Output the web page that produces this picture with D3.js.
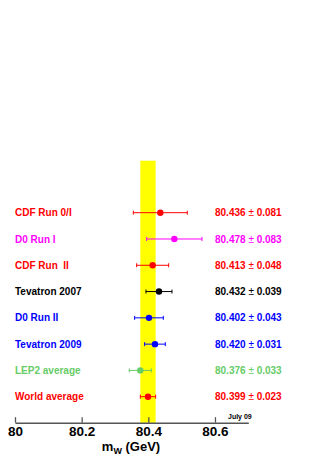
<!DOCTYPE html>
<html>
<head>
<meta charset="utf-8">
<script src="https://cdn.jsdelivr.net/npm/d3@7"></script>
<style>
  html, body { margin: 0; padding: 0; background: #fff; }
  svg { display: block; font-family: "Liberation Sans", Arial, Helvetica, sans-serif; }
</style>
</head>
<body>
<svg id="chart" width="314" height="460"></svg>
<script>
// ---- data ----
const categories = ["CDF Run 0/I", "D0 Run I", "CDF Run  II", "Tevatron 2007", "D0 Run II", "Tevatron 2009", "LEP2 average", "World average"];
const centralValues = [80.436, 80.478, 80.413, 80.432, 80.402, 80.420, 80.376, 80.399];
const errors = [0.081, 0.083, 0.048, 0.039, 0.043, 0.031, 0.033, 0.023];
const colors = ["#ff0000", "#ff00ff", "#ff0000", "#000000", "#0000ff", "#0000ff", "#66cc66", "#ff0000"];
const tickValues = [80, 80.2, 80.4, 80.6];
const bandCenter = 80.399;
const bandError = 0.023;

const svg = d3.select("#chart");

const x = d3.scaleLinear().domain([80, 80.7]).range([15, 248.3]);
const y = d3.scalePoint().domain(categories).range([212.7, 396.7]);
const axisY = 422.7;

// yellow band
svg.append("rect")
  .attr("x", x(bandCenter - bandError))
  .attr("width", x(bandCenter + bandError) - x(bandCenter - bandError))
  .attr("y", 160.7)
  .attr("height", axisY - 160.7)
  .attr("fill", "#ffff00");

const rows = categories.map((c, i) => ({ name: c, v: centralValues[i], e: errors[i], col: colors[i] }));

const g = svg.append("g").selectAll("g").data(rows).join("g");

// error bars
g.append("line")
  .attr("x1", d => x(d.v - d.e)).attr("x2", d => x(d.v + d.e))
  .attr("y1", d => y(d.name)).attr("y2", d => y(d.name))
  .attr("stroke", d => d.col).attr("stroke-width", 1);
g.append("line")
  .attr("x1", d => x(d.v - d.e)).attr("x2", d => x(d.v - d.e))
  .attr("y1", d => y(d.name) - 2).attr("y2", d => y(d.name) + 2)
  .attr("stroke", d => d.col).attr("stroke-width", 1);
g.append("line")
  .attr("x1", d => x(d.v + d.e)).attr("x2", d => x(d.v + d.e))
  .attr("y1", d => y(d.name) - 2).attr("y2", d => y(d.name) + 2)
  .attr("stroke", d => d.col).attr("stroke-width", 1);
g.append("circle")
  .attr("cx", d => x(d.v)).attr("cy", d => y(d.name)).attr("r", 3.2)
  .attr("fill", d => d.col);

// labels
g.append("text")
  .attr("x", 15).attr("y", d => y(d.name) + 3.6)
  .attr("font-size", 10).attr("font-weight", "bold")
  .attr("fill", d => d.col)
  .style("white-space", "pre")
  .attr("xml:space", "preserve")
  .text(d => d.name);

const vt = g.append("text")
  .attr("x", 215).attr("y", d => y(d.name) + 3.6)
  .attr("font-size", 10).attr("font-weight", "bold")
  .attr("fill", d => d.col);
vt.append("tspan").text(d => d.v.toFixed(3) + " ");
vt.append("tspan").attr("font-weight", "normal").text("\u00b1");
vt.append("tspan").text(d => " " + d.e.toFixed(3));

// axis
const axis = d3.axisBottom(x).tickValues(tickValues).tickFormat(d3.format("")).tickSizeInner(-5.5).tickSizeOuter(0).tickPadding(4);
const ag = svg.append("g").attr("transform", `translate(0,${axisY})`).call(axis);
ag.select(".domain").attr("stroke", "#555").attr("stroke-width", 1.5);
ag.selectAll(".tick line").attr("stroke", "#555").attr("stroke-width", 1.3);
ag.selectAll(".tick text")
  .attr("font-size", 13.5).attr("font-weight", "bold").attr("fill", "#000")
  .attr("font-family", "\"Liberation Sans\", Arial, sans-serif");

// axis title
const t = svg.append("text")
  .attr("x", 131).attr("y", 451)
  .attr("text-anchor", "middle")
  .attr("font-size", 13).attr("font-weight", "bold");
t.append("tspan").text("m");
t.append("tspan").attr("font-size", 9).attr("dy", 3).text("W");
t.append("tspan").attr("dy", -3).text(" (GeV)");

// note
svg.append("text")
  .attr("x", 228).attr("y", 419)
  .attr("font-size", 7).attr("font-weight", "bold")
  .text("July 09");
</script>
</body>
</html>
